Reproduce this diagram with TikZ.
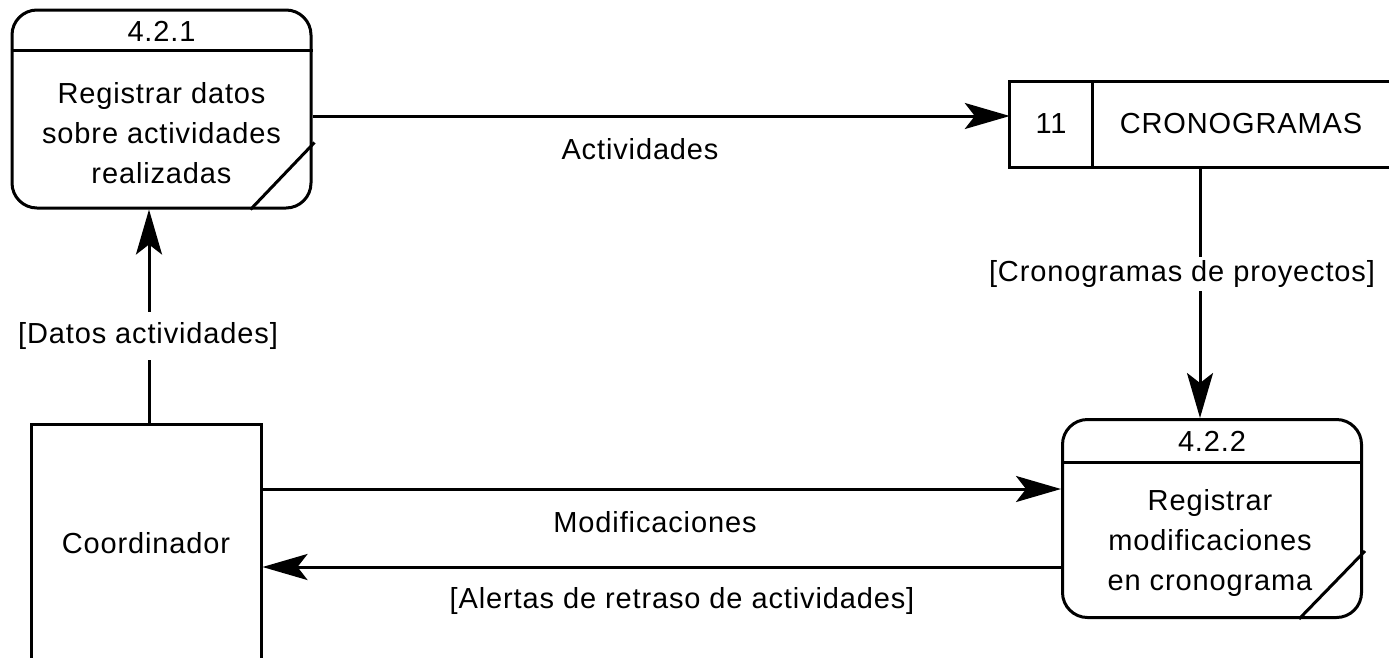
\documentclass[tikz,border=0pt]{standalone}
\usepackage{fontspec}
\setmainfont[LetterSpace=3]{Liberation Sans}
\usetikzlibrary{arrows.meta,calc}
\begin{document}
\begin{tikzpicture}[x=1pt,y=-1pt,
  every node/.style={font=\fontsize{29}{40}\selectfont, inner sep=0pt},
  ln/.style={line width=3pt},
  arr/.style={line width=3pt,-{Stealth[length=45pt,width=26pt,inset=10pt]}},
  proc/.style={draw,line width=3pt,rounded corners=25pt,minimum width=299pt,minimum height=198pt},
  ent/.style={draw,line width=3pt,minimum width=230pt,minimum height=300pt},
  store/.style={minimum width=379pt,minimum height=85pt},
  lbl/.style={fill=white,inner sep=3pt},
  txt/.style={align=center}]
\useasboundingbox (0,0) rectangle (1399,657);
\clip (0,0) rectangle (1399,657);

% Process 4.2.1
\node[proc] (p1) at (161.5,109) {};
\draw[ln] ($(p1.north west)+(0,42)$) -- ($(p1.north east)+(0,42)$);
\node (p1h) at (161.5,31) {4.2.1};
\node[txt] (p1t) at (161.5,133) {Registrar datos\\sobre actividades\\realizadas};
\draw[ln] ($(p1.south east)+(-62,0)$) -- ($(p1.south east)+(2,-67)$);

% Process 4.2.2
\node[proc] (p2) at (1212,518.5) {};
\draw[ln] ($(p2.north west)+(0,44)$) -- ($(p2.north east)+(0,44)$);
\node (p2h) at (1212,441) {4.2.2};
\node[txt] (p2t) at (1210,543) {Registrar\\modificaciones\\en cronograma};
\draw[ln] ($(p2.south east)+(-64,0)$) -- ($(p2.south east)+(2,-68)$);

% Data store 11
\node[store] (ds) at (1199.5,124.5) {};
\draw[ln] (ds.north east) -- (ds.north west) -- (ds.south west) -- (ds.south east);
\draw[ln] ($(ds.north west)+(83,0)$) coordinate (dv1) -- ($(ds.south west)+(83,0)$) coordinate (dv2);
\node (dsn) at (1051,124) {11};
\node (dst) at (1241,124) {CRONOGRAMAS};

% Coordinator
\node[ent] (co) at (146,574) {};
\node (cot) at (146,543) {Coordinador};

% Connectors
\draw[arr] (p1.east |- 0,116) -- (ds.west |- 0,116);
\node (l1) at (640,149) {Actividades};

\coordinate (dsout) at (ds.south -| 1200,0);
\draw[arr] (dsout) -- (p2.north -| dsout);
\node[lbl] (l2) at (1182,274) {[Cronogramas de proyectos]};

\coordinate (coout) at (co.north -| 149,0);
\draw[arr] (coout) -- (p1.south -| coout);
\node[lbl,inner ysep=10pt] (l3) at (148,336) {[Datos actividades]};

\draw[arr] (co.east |- 0,489) -- (p2.west |- 0,489);
\node (l4) at (655,522) {Modificaciones};

\draw[arr] (p2.west |- 0,567) -- (co.east |- 0,567);
\node (l5) at (682,601) {[Alertas de retraso de actividades]};
\end{tikzpicture}
\end{document}
